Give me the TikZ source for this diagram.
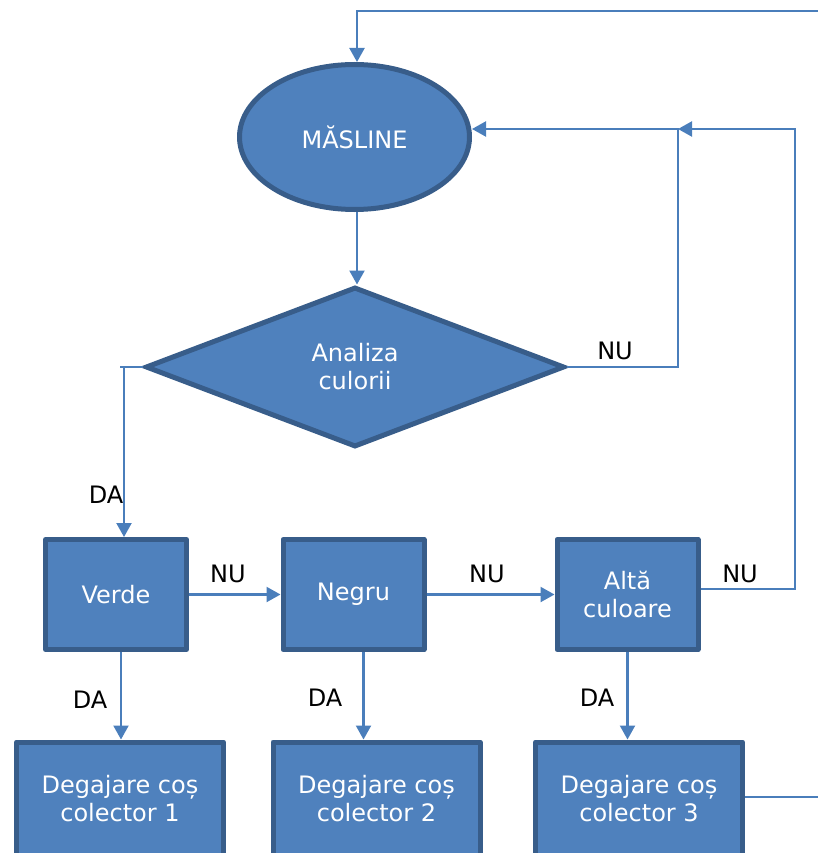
\documentclass[tikz,border=0pt]{standalone}
\usepackage{fontspec}
\setmainfont{DejaVu Sans}
\usetikzlibrary{shapes.geometric,arrows.meta,calc}
\definecolor{boxfill}{HTML}{4F81BD}
\definecolor{boxline}{HTML}{385D8A}
\definecolor{wirecol}{HTML}{4A7EBB}
\begin{document}
\begin{tikzpicture}[x=1pt,y=-1pt,
  shapebox/.style={draw=boxline, fill=boxfill, line width=5pt, text=white,
    font=\fontsize{24}{28}\selectfont, align=center, inner sep=0pt},
  block/.style={shapebox, rectangle, line join=round, minimum width=141pt, minimum height=110pt},
  outbox/.style={shapebox, rectangle, line join=round, minimum width=207pt, minimum height=114pt},
  wire/.style={draw=wirecol, line width=2.2pt},
  arr/.style={wire, -{Triangle[length=14pt,width=15pt]}},
  lbl/.style={font=\fontsize{24}{28}\selectfont, text=black, inner sep=0pt}]
\path[use as bounding box, clip] (0,0) rectangle (818,853);

% shapes
\node[shapebox, ellipse, minimum width=230pt, minimum height=145pt] (ell) at (354.5,137) {MĂSLINE};
\node[shapebox, diamond, minimum width=419pt, minimum height=160pt] (dia) at (355,367) {Analiza\\culorii};
\node[block] (verde) at (116,594.5) {Verde};
\node[block] (negru) at (353.5,594.5) {Negru};
\node[block] (alta) at (627.5,594.5) {Altă\\culoare};
\node[outbox] (c1) at (120,799) {Degajare coș\\colector 1};
\node[outbox] (c2) at (376.5,799) {Degajare coș\\colector 2};
\node[outbox] (c3) at (639,799) {Degajare coș\\colector 3};

% helper points for the routed connectors
\coordinate (topR) at (818,11);
\coordinate (topL) at (357,11);
\coordinate (j) at (678,129);
\coordinate (k) at (795,589);
\coordinate (dl) at (124,367);
\coordinate (out3) at (818,797);

% main flow
\draw[arr] (topR) -- (topL) -- (topL |- ell.north);
\draw[arr] (topL |- ell.south) -- (topL |- dia.north);

% NU branch from the decision back to the start
\draw[arr] (dia.east) -- (dia.east -| j) -- (j) -- (j -| ell.east);
\node[lbl] (nu0) at (615,351) {NU};

% DA branch to the first colour test
\draw[wire] (dia.west) -- ++(-23,0);
\draw[arr] (dl) -- (dl |- verde.north);
\node[lbl] (da0) at (106,495) {DA};

% colour tests chain
\draw[arr] (verde.east) -- (negru.west);
\node[lbl] (nu1) at (228,574) {NU};
\draw[arr] (negru.east) -- (alta.west);
\node[lbl] (nu2) at (487,574) {NU};
\draw[arr] (alta.east |- k) -- (k) -- (k |- j) -- (j);
\node[lbl] (nu3) at (740,574) {NU};

% DA branches to the collectors
\path (verde.south) ++(5,0) coordinate (d1);
\path (negru.south) ++(10,0) coordinate (d2);
\path (alta.south) coordinate (d3);
\draw[arr] (d1) -- (d1 |- c1.north);
\draw[arr] (d2) -- (d2 |- c2.north);
\draw[arr] (d3) -- (d3 |- c3.north);
\node[lbl] (da1) at (90,700) {DA};
\node[lbl] (da2) at (325,698) {DA};
\node[lbl] (da3) at (597,698) {DA};

% outgoing line from the last collector
\draw[wire] (out3 -| c3.east) -- (out3);
\end{tikzpicture}
\end{document}
